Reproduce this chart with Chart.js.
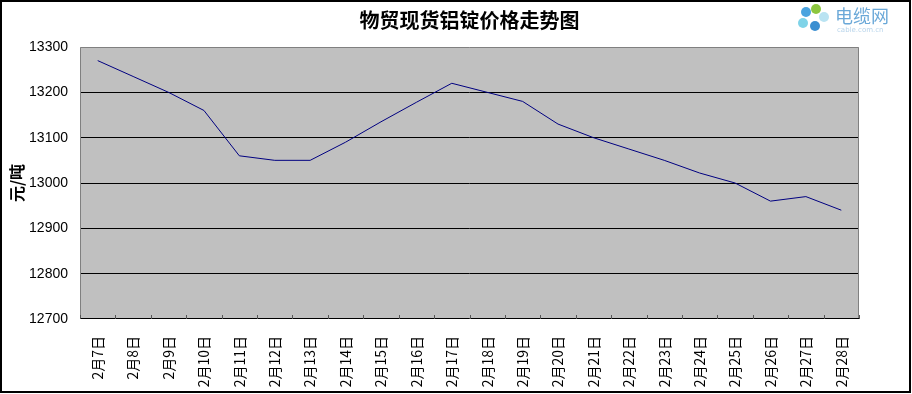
<!DOCTYPE html>
<html>
<head>
<meta charset="utf-8">
<script src="https://cdn.jsdelivr.net/npm/chart.js@4.4.1/dist/chart.umd.min.js"></script>
<style>
  html, body { margin: 0; padding: 0; background: #fff; }
  #wrap { width: 912px; height: 394px; position: relative; }
</style>
</head>
<body>
<div id="wrap"><canvas id="priceChart" width="912" height="394"></canvas></div>
<script>
// 物贸现货铝锭价格走势图

const titleText = '物贸现货铝锭价格走势图';
const yAxisTitle = '元/吨';
const days = ['2月7日','2月8日','2月9日','2月10日','2月11日','2月12日','2月13日','2月14日',
  '2月15日','2月16日','2月17日','2月18日','2月19日','2月20日','2月21日','2月22日',
  '2月23日','2月24日','2月25日','2月26日','2月27日','2月28日'];
const prices = [13270, 13235, 13200, 13160, 13060, 13050, 13050, 13090,
  13135, 13178, 13220, 13200, 13180, 13130, 13100, 13075,
  13050, 13022, 13000, 12960, 12970, 12940];
const yTicks = [12700, 12800, 12900, 13000, 13100, 13200, 13300];

// grey plot background, frame, inward tick marks, title, logo, outer border
const decor = {
  id: 'decor',
  beforeDraw(chart) {
    const { ctx, chartArea: a } = chart;
    ctx.save();
    ctx.fillStyle = '#fff';
    ctx.fillRect(0, 0, chart.width, chart.height);
    ctx.fillStyle = '#c0c0c0';
    ctx.fillRect(a.left, a.top, a.right - a.left, a.bottom - a.top);
    ctx.restore();
  },
  afterDraw(chart) {
    const { ctx, chartArea: a, scales } = chart;
    const x = scales.x;
    ctx.save();
    // plot frame
    ctx.strokeStyle = '#808080';
    ctx.lineWidth = 1;
    ctx.beginPath();
    ctx.moveTo(a.left + 0.5, a.bottom);
    ctx.lineTo(a.left + 0.5, a.top + 0.5);
    ctx.lineTo(a.right - 0.5, a.top + 0.5);
    ctx.lineTo(a.right - 0.5, a.bottom);
    ctx.stroke();
    ctx.strokeStyle = '#000';
    ctx.beginPath();
    ctx.moveTo(a.left, a.bottom - 0.5);
    ctx.lineTo(a.right, a.bottom - 0.5);
    ctx.stroke();
    // category boundary ticks pointing up into the plot
    const step = x.getPixelForValue(1) - x.getPixelForValue(0);
    ctx.strokeStyle = '#555';
    for (let i = 0; i <= days.length; i++) {
      const px = Math.round(x.getPixelForValue(i) - step / 2) + 0.5;
      ctx.beginPath();
      ctx.moveTo(px, a.bottom);
      ctx.lineTo(px, a.bottom - 4);
      ctx.stroke();
    }
    // title
    ctx.fillStyle = '#000';
    ctx.font = 'bold 20px "Noto Sans CJK SC"';
    ctx.textAlign = 'center';
    ctx.textBaseline = 'middle';
    ctx.fillText(titleText, (a.left + a.right) / 2, 20);
    // logo
    const petals = [['#4aa3df', 806, 12], ['#8cc63f', 816, 9], ['#7fd3e8', 803, 23], ['#3b8fd1', 815, 26], ['#b9e3f2', 824, 17]];
    petals.forEach(([c, px, py]) => {
      ctx.fillStyle = c;
      ctx.beginPath();
      ctx.arc(px, py, 5, 0, Math.PI * 2);
      ctx.fill();
    });
    ctx.fillStyle = '#6aa8d8';
    ctx.font = '18px "Noto Sans CJK SC"';
    ctx.textAlign = 'left';
    ctx.fillText('电缆网', 835, 16);
    ctx.fillStyle = '#b8d4ea';
    ctx.font = '7px "DejaVu Sans"';
    ctx.fillText('cable.com.cn', 837, 30);
    // outer border
    ctx.strokeStyle = '#000';
    ctx.lineWidth = 2;
    ctx.strokeRect(1, 1, 909, 391);
    ctx.restore();
  }
};

new Chart(document.getElementById('priceChart'), {
  type: 'line',
  data: {
    labels: days,
    datasets: [{
      data: prices,
      borderColor: '#000080',
      borderWidth: 1,
      pointRadius: 0,
      tension: 0,
      fill: false,
    }]
  },
  options: {
    responsive: false,
    animation: false,
    layout: { padding: { top: 47, right: 53, bottom: 0, left: 0 } },
    plugins: { legend: { display: false }, tooltip: { enabled: false } },
    scales: {
      x: {
        offset: true,
        grid: { display: false, offset: true },
        border: { display: false },
        ticks: {
          color: '#000',
          font: { family: '"Noto Sans CJK SC"', size: 14 },
          maxRotation: 90, minRotation: 90,
          autoSkip: false,
          padding: 9,
        },
        afterFit(scale) { scale.height = 75; }
      },
      y: {
        min: 12700,
        max: 13300,
        afterBuildTicks(scale) { scale.ticks = yTicks.map(v => ({ value: v })); },
        grid: {
          color: ctx => (ctx.tick && (ctx.tick.value === 13300 || ctx.tick.value === 12700)) ? 'rgba(0,0,0,0)' : '#000',
          lineWidth: 1,
          drawTicks: false,
        },
        border: { display: false },
        ticks: {
          color: '#000',
          font: { family: '"Liberation Sans"', size: 14 },
          padding: 12,
          callback: v => String(v),
        },
        title: {
          display: true,
          text: yAxisTitle,
          color: '#000',
          font: { family: '"Noto Sans CJK SC"', size: 16, weight: 'bold' },
          padding: { top: 7, bottom: 0 },
        },
        afterFit(scale) { scale.width = 80; }
      }
    }
  },
  plugins: [decor]
});
</script>
</body>
</html>
